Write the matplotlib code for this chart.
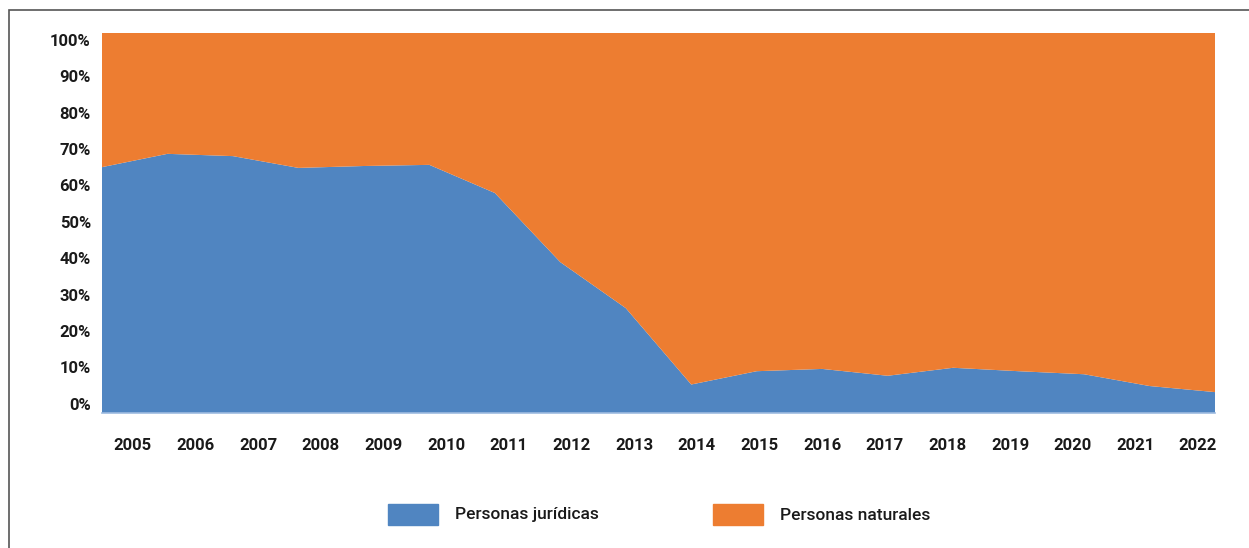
import numpy as np
import matplotlib.pyplot as plt
from matplotlib.patches import Rectangle

# Data (share of each group, %)
years = ['2005', '2006', '2007', '2008', '2009', '2010', '2011', '2012', '2013',
         '2014', '2015', '2016', '2017', '2018', '2019', '2020', '2021', '2022']
juridicas = [64.7, 68.2, 67.6, 64.5, 65.0, 65.3, 57.9, 39.7, 27.6,
             7.5, 11.0, 11.6, 9.8, 11.9, 11.0, 10.2, 7.1, 5.5]
naturales = [100 - v for v in juridicas]
labels = ['Personas jurídicas', 'Personas naturales']

blue = '#5085C1'
orange = '#ED7D31'

plt.rcParams['font.family'] = ['Roboto', 'DejaVu Sans']

W, H = 1249, 548
fig = plt.figure(figsize=(W / 100, H / 100), dpi=100)
ax = fig.add_axes([102 / W, (H - 413) / H, (1215 - 102) / W, (413 - 33) / H])

x = np.arange(len(years))
ax.stackplot(x, juridicas, naturales, colors=[blue, orange], linewidth=0)
ax.set_xlim(0, len(years) - 1)
ax.set_ylim(0, 100)

# tick labels sit slightly off the data grid in the original
ax.set_yticks(np.linspace(2.4, 98.2, 11))
ax.set_yticklabels([f'{v}%' for v in range(0, 101, 10)])
ax.set_xticks(np.linspace(0.47, 16.74, len(years)))
ax.set_xticklabels(years)
ax.tick_params(length=0, labelsize=12)
ax.tick_params(axis='y', pad=8)
ax.tick_params(axis='x', pad=18)
for t in ax.get_xticklabels() + ax.get_yticklabels():
    t.set_fontweight('bold')
    t.set_color('#1a1a1a')

for s in ['top', 'right', 'left']:
    ax.spines[s].set_visible(False)
ax.spines['bottom'].set_color('#9dbbe0')
ax.spines['bottom'].set_linewidth(1.2)

# outer frame
fig.patches.append(Rectangle((9 / W, -0.1), 1.2, (H - 10) / H + 0.1,
                             transform=fig.transFigure, fill=False,
                             edgecolor='#555555', linewidth=1.2))

# legend
for (x0, lab, col) in [(388, labels[0], blue), (713, labels[1], orange)]:
    fig.patches.append(Rectangle((x0 / W, (H - 525) / H), 50 / W, 21 / H,
                                 transform=fig.transFigure, color=col))
    fig.text((x0 + 67) / W, (H - 515) / H, lab, fontsize=12.5, fontweight='medium',
             color='#1a1a1a', va='center', ha='left')

fig.savefig('out.png', dpi=100)
